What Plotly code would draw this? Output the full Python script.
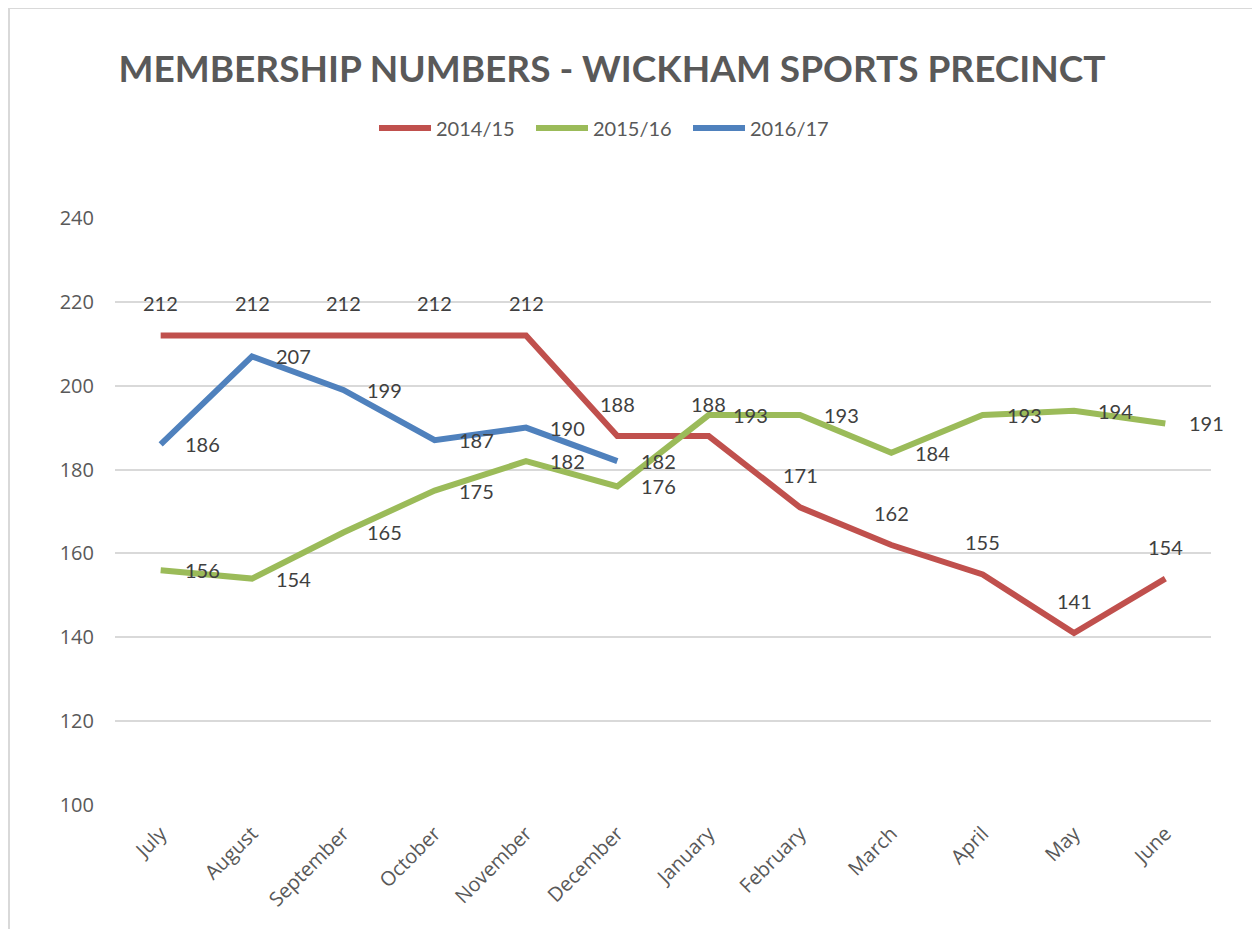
import plotly.graph_objects as go

months = ['July', 'August', 'September', 'October', 'November', 'December',
          'January', 'February', 'March', 'April', 'May', 'June']

series_names = ['2014/15', '2015/16', '2016/17']
members_2014 = [212, 212, 212, 212, 212, 188, 188, 171, 162, 155, 141, 154]
members_2015 = [156, 154, 165, 175, 182, 176, 193, 193, 184, 193, 194, 191]
members_2016 = [186, 207, 199, 187, 190, 182]

y_ticks = [100, 120, 140, 160, 180, 200, 220, 240]

colors = ['#C0504D', '#9BBB59', '#4F81BD']
label_font = dict(family='Lato, Carlito, sans-serif', size=20, color='#404040')
axis_font = dict(family='Open Sans, sans-serif', size=20, color='#595959')

# the page body has an 8px margin, so the plot box is placed 8px up/left
L, R, T, B = 107, 57, 210, 132
W, H = 1260, 929
plot_w = W - L - R
plot_h = H - T - B

fig = go.Figure()

all_series = [members_2014, members_2015, members_2016]
for name, values, color in zip(series_names, all_series, colors):
    fig.add_trace(go.Scatter(
        x=months[:len(values)],
        y=values,
        name=name,
        mode='lines',
        line=dict(color=color, width=6),
    ))

# data labels: red above the point, green and blue to the right
annotations = []
for m, v in zip(months, members_2014):
    annotations.append(dict(x=m, y=v, text=str(v), showarrow=False,
                            yshift=32, font=label_font))
for values in (members_2015, members_2016):
    for m, v in zip(months, values):
        annotations.append(dict(x=m, y=v, text=str(v), showarrow=False,
                                xanchor='left', xshift=22, font=label_font))

fig.update_layout(
    width=W,
    height=H,
    margin=dict(l=L, r=R, t=T, b=B),
    paper_bgcolor='white',
    plot_bgcolor='white',
    title=dict(
        text='<b>MEMBERSHIP NUMBERS - WICKHAM SPORTS PRECINCT</b>',
        x=604 / W, xanchor='center',
        y=1 - 61 / H, yanchor='middle',
        font=dict(family='Lato, Carlito, sans-serif', size=37, color='#595959'),
    ),
    legend=dict(
        orientation='h',
        x=(366 - L) / plot_w, xanchor='left',
        y=(plot_h + T - 120) / plot_h, yanchor='middle',
        font=dict(family='Lato, Carlito, sans-serif', size=20, color='#595959'),
        itemwidth=52,
        entrywidth=90,
        entrywidthmode='pixels',
    ),
    xaxis=dict(
        categoryorder='array',
        categoryarray=months,
        range=[-0.5, 11.5],
        tickangle=-45,
        tickfont=axis_font,
        showgrid=False,
        showline=False,
        ticks='',
        ticklabelstandoff=12,
    ),
    yaxis=dict(
        range=[100, 240],
        tickvals=y_ticks,
        tickfont=axis_font,
        gridcolor='#D9D9D9',
        gridwidth=1.5,
        zeroline=False,
        showline=False,
        ticks='',
        ticklabelstandoff=20,
    ),
    annotations=annotations,
    shapes=[dict(
        type='rect', xref='paper', yref='paper',
        x0=(1 - L) / plot_w, x1=(1250 - L) / plot_w,
        y0=-0.3, y1=(plot_h + T) / plot_h,
        line=dict(color='#D9D9D9', width=2),
        layer='below',
    )],
)

fig.write_html('out.html')
